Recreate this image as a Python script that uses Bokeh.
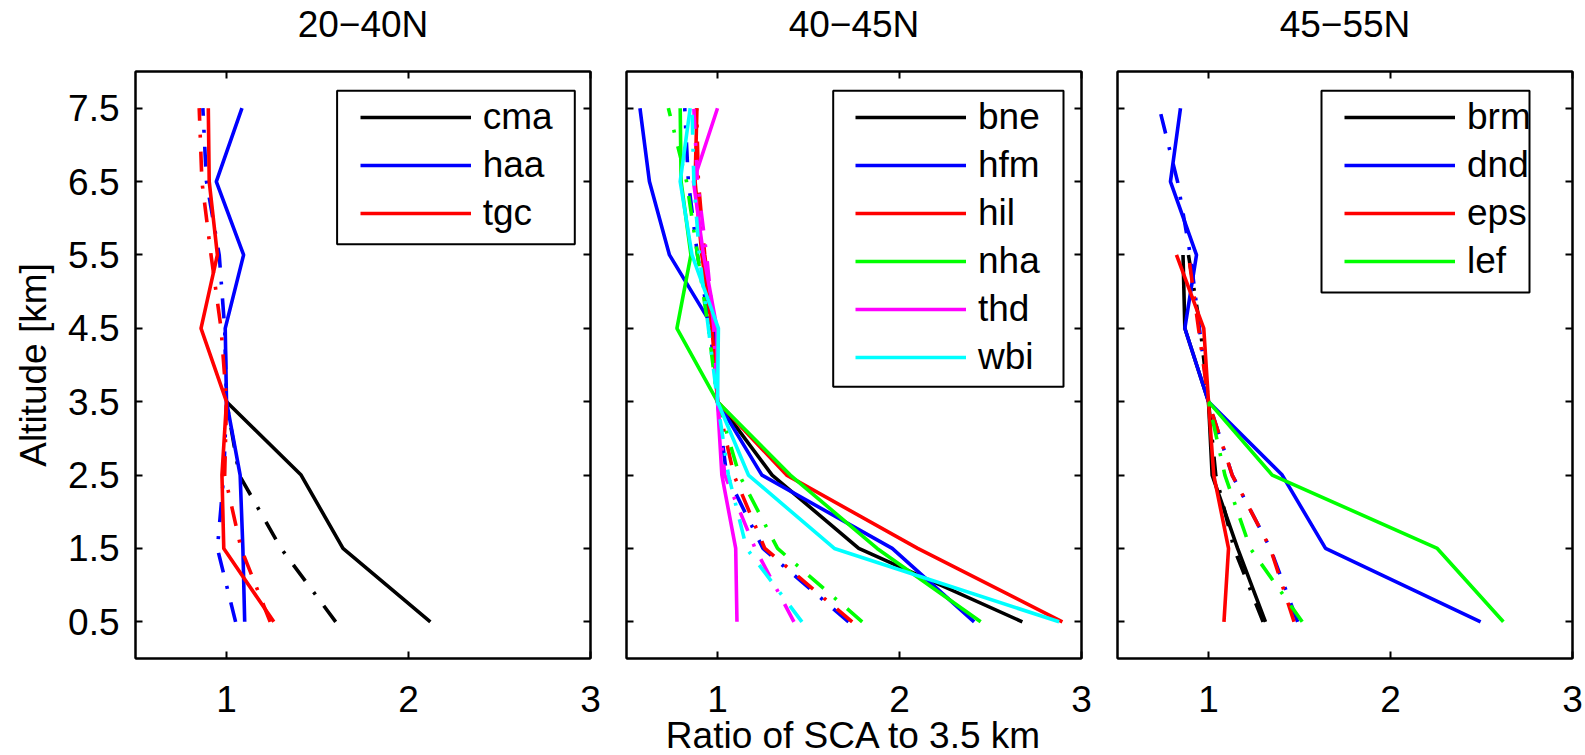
import math
from bokeh.plotting import figure
from bokeh.models import Range1d, FixedTicker, LinearAxis, Legend, LegendItem, BoxAnnotation
from bokeh.layouts import row
from bokeh.embed import file_html
from bokeh.resources import INLINE

NaN = float("nan")

# ---------------- data ----------------
altitude_km = [0.5, 1.5, 2.5, 3.5, 4.5, 5.5, 6.5, 7.5]
x_ticks = [1, 2, 3]
y_ticks = [0.5, 1.5, 2.5, 3.5, 4.5, 5.5, 6.5, 7.5]
panel_titles = ["20\u221240N", "40\u221245N", "45\u221255N"]
x_label = "Ratio of SCA to 3.5 km"
y_label = "Altitude [km]"

# 20-40N
stations_20_40 = ["cma", "haa", "tgc"]
colors_20_40 = ["#000000", "#0000ff", "#ff0000"]
cma_solid   = [2.12, 1.64, 1.41, 1.00, NaN, NaN, NaN, NaN]
cma_dashdot = [1.60, 1.30, 1.07, 1.00, NaN, NaN, NaN, NaN]
haa_solid   = [1.10, 1.09, 1.075, 1.00, 0.993, 1.094, 0.944, 1.085]
haa_dashdot = [1.05, 0.95, 0.985, 1.00, 0.99, 0.96, 0.89, 0.87]
tgc_solid   = [1.26, 0.985, 0.975, 1.00, 0.86, 0.95, 0.905, 0.90]
tgc_dashdot = [1.24, 1.08, 0.99, 1.00, 0.97, 0.915, 0.865, 0.85]

# 40-45N
stations_40_45 = ["bne", "hfm", "hil", "nha", "thd", "wbi"]
colors_40_45 = ["#000000", "#0000ff", "#ff0000", "#00ff00", "#ff00ff", "#00ffff"]
bne_solid   = [2.675, 1.776, 1.30, 1.00, NaN, NaN, NaN, NaN]
bne_dashdot = [NaN, NaN, NaN, NaN, NaN, NaN, NaN, NaN]
hfm_solid   = [2.41, 1.96, 1.244, 1.00, 0.98, 0.736, 0.626, 0.574]
hfm_dashdot = [1.72, 1.25, 1.05, 1.00, 0.96, 0.89, 0.84, 0.82]
hil_solid   = [2.895, 2.10, 1.38, 1.00, 0.97, 0.914, 0.877, 0.887]
hil_dashdot = [1.74, 1.26, 1.09, 1.00, 0.98, 0.93, 0.895, 0.885]
nha_solid   = [2.446, 1.877, 1.40, 1.00, 0.777, 0.854, 0.80, 0.795]
nha_dashdot = [1.795, 1.33, 1.12, 1.00, 0.95, 0.89, 0.83, 0.73]
thd_solid   = [1.107, 1.10, 1.024, 1.00, 0.997, 0.923, 0.868, 1.00]
thd_dashdot = [1.42, 1.207, 1.04, 1.00, 0.98, 0.94, 0.89, 0.87]
wbi_solid   = [2.877, 1.642, 1.17, 1.00, 1.005, 0.86, 0.795, 0.85]
wbi_dashdot = [1.464, 1.16, 1.06, 1.00, 0.95, 0.90, 0.87, 0.86]

# 45-55N
stations_45_55 = ["brm", "dnd", "eps", "lef"]
colors_45_55 = ["#000000", "#0000ff", "#ff0000", "#00ff00"]
brm_solid   = [1.313, 1.16, 1.02, 1.00, 0.87, 0.86, NaN, NaN]
brm_dashdot = [1.30, 1.14, 1.04, 1.00, 0.955, 0.89, NaN, NaN]
dnd_solid   = [2.495, 1.643, 1.405, 1.00, 0.87, 0.934, 0.791, 0.846]
dnd_dashdot = [1.49, 1.34, 1.13, 1.00, 0.95, 0.90, 0.83, 0.73]
eps_solid   = [1.085, 1.11, 1.029, 1.00, 0.974, 0.824, NaN, NaN]
eps_dashdot = [1.47, 1.34, 1.13, 1.00, 0.945, 0.89, NaN, NaN]
lef_solid   = [2.62, 2.257, 1.35, 1.00, NaN, NaN, NaN, NaN]
lef_dashdot = [1.515, 1.23, 1.09, 1.00, NaN, NaN, NaN, NaN]

panel_data = [
    (stations_20_40, colors_20_40,
     [cma_solid, haa_solid, tgc_solid], [cma_dashdot, haa_dashdot, tgc_dashdot]),
    (stations_40_45, colors_40_45,
     [bne_solid, hfm_solid, hil_solid, nha_solid, thd_solid, wbi_solid],
     [bne_dashdot, hfm_dashdot, hil_dashdot, nha_dashdot, thd_dashdot, wbi_dashdot]),
    (stations_45_55, colors_45_55,
     [brm_solid, dnd_solid, eps_solid, lef_solid],
     [brm_dashdot, dnd_dashdot, eps_dashdot, lef_dashdot]),
]

# ---------------- layout / style ----------------
FONT = "Liberation Sans"
FS = "37px"
LW = 3.6
FRAME_W = 455
FRAME_H = 587
TOP_B = 71
BOTTOM_B = 97
X0, X1, Y0, Y1 = 0.5, 3.0, 0.0, 8.0
frame_left_px = [135, 626, 1117]
left_b = [135, 21, 21]
right_b = [15, 15, 13]
FRAME_TOP_PX = 70.7
FRAME_BOT_PX = FRAME_TOP_PX + FRAME_H
# legend geometry in image px: box (l, t, r, b), glyph left, first row center
legend_geom = [
    (336.6, 90.0, 574.3, 243.5, 359.7, 117.0),
    (832.7, 90.0, 1063.0, 386.0, 855.0, 117.0),
    (1321.0, 90.0, 1529.0, 291.7, 1344.0, 117.0),
]
ROW_H = 44
ROW_SP = 4
GLYPH_W = 111


def px2x(px, fl):
    return X0 + (px - fl) * (X1 - X0) / FRAME_W


def px2y(py):
    return Y0 + (FRAME_BOT_PX - py) * (Y1 - Y0) / FRAME_H


def style_axis(ax, ticks, show_labels):
    ax.ticker = FixedTicker(ticks=ticks)
    ax.axis_line_width = 2
    ax.axis_line_color = "black"
    ax.major_tick_line_width = 2
    ax.major_tick_line_color = "black"
    ax.major_tick_in = 7
    ax.major_tick_out = 0
    ax.minor_tick_line_color = None
    ax.major_label_text_font = FONT
    if show_labels:
        ax.major_label_text_font_size = FS
        ax.major_label_text_color = "black"
    else:
        ax.major_label_text_font_size = "1px"
        ax.major_label_text_color = None
        ax.major_label_standoff = 0


def style_label(ax, text, standoff):
    ax.axis_label = text
    ax.axis_label_text_font = FONT
    ax.axis_label_text_font_size = FS
    ax.axis_label_text_font_style = "normal"
    ax.axis_label_text_color = "black"
    ax.axis_label_standoff = standoff


figs = []
for i, (names, colors, solids, dashdots) in enumerate(panel_data):
    p = figure(frame_width=FRAME_W, frame_height=FRAME_H,
               x_range=Range1d(X0, X1), y_range=Range1d(Y0, Y1),
               output_backend="svg", toolbar_location=None,
               min_border_left=left_b[i], min_border_right=right_b[i],
               min_border_top=TOP_B, min_border_bottom=BOTTOM_B,
               background_fill_color="white", border_fill_color="white")
    p.grid.visible = False
    p.outline_line_color = "black"
    p.outline_line_width = 2

    xa = p.xaxis[0]
    ya = p.yaxis[0]
    style_axis(xa, x_ticks, True)
    xa.major_label_standoff = 27
    style_axis(ya, y_ticks, i == 0)
    if i == 0:
        ya.major_label_standoff = 16
        style_label(ya, y_label, 11)
    if i == 1:
        style_label(xa, x_label, 0)

    ra = LinearAxis()
    style_axis(ra, y_ticks, False)
    p.add_layout(ra, "right")
    ta = LinearAxis()
    style_axis(ta, x_ticks, False)
    # panel title drawn as the label of the top axis, centred over the frame
    style_label(ta, panel_titles[i], 27)
    p.add_layout(ta, "above")

    items = []
    for name, col, ys, yd in zip(names, colors, solids, dashdots):
        r = p.line(ys, altitude_km, line_color=col, line_width=LW)
        p.line(yd, altitude_km, line_color=col, line_width=LW, line_dash="20 14 3 14")
        items.append(LegendItem(label=name, renderers=[r]))

    bl, bt, br, bb, gl, c0 = legend_geom[i]
    fl = frame_left_px[i]
    box = BoxAnnotation(left=px2x(bl, fl), right=px2x(br, fl),
                        top=px2y(bt), bottom=px2y(bb),
                        fill_color="white", fill_alpha=1.0,
                        line_color="black", line_width=2, line_alpha=1.0)
    p.add_layout(box)

    n = len(names)
    leg_top = c0 - ROW_H / 2
    leg_bot = leg_top + n * ROW_H + (n - 1) * ROW_SP
    legend = Legend(items=items, location=(gl - fl, FRAME_BOT_PX - leg_bot),
                    padding=0, spacing=ROW_SP, margin=0,
                    glyph_width=GLYPH_W, glyph_height=ROW_H, label_height=ROW_H,
                    label_standoff=12,
                    label_text_font=FONT, label_text_font_size=FS,
                    label_text_color="black",
                    border_line_color=None, background_fill_alpha=0.0)
    p.add_layout(legend)
    figs.append(p)

layout = row(*figs)
open("out.html", "w").write(file_html(layout, INLINE))
